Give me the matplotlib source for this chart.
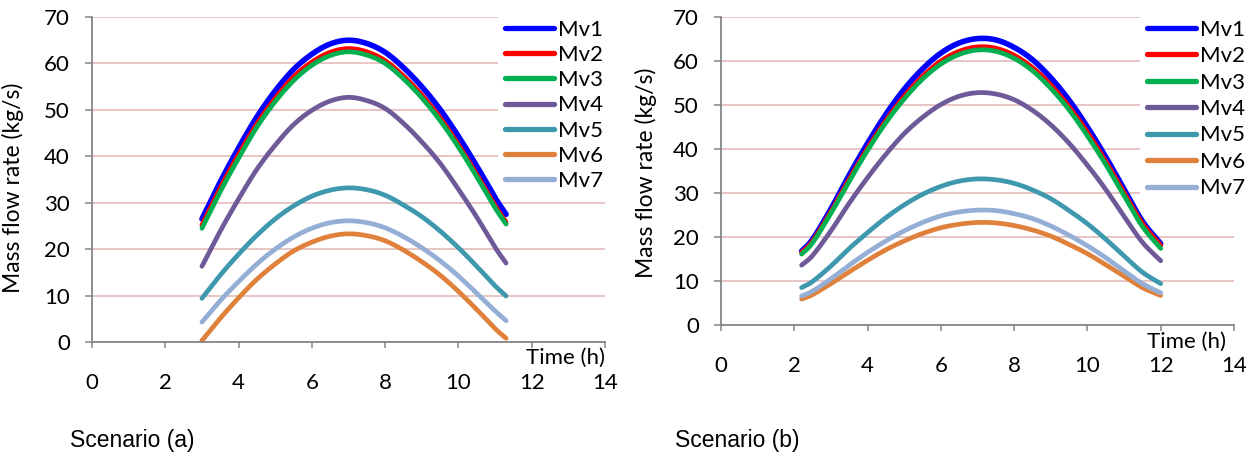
import matplotlib
matplotlib.use("Agg")
import matplotlib.pyplot as plt
import numpy as np

plt.rcParams['font.family'] = ['Lato', 'DejaVu Sans']

# ---- Scenario (a) ----
time_a = [3.0, 3.5, 4.0, 4.5, 5.0, 5.5, 6.0, 6.5, 7.0, 7.5, 8.0, 8.5, 9.0,
          9.5, 10.0, 10.5, 11.0, 11.3]
mv1_a = [26.5, 34.5, 41.8, 48.5, 54.1, 58.7, 62.0, 64.2, 65.0, 64.3, 62.4,
         59.1, 55.0, 50.1, 44.3, 37.9, 31.1, 27.5]
mv2_a = [25.2, 33.2, 40.4, 47.0, 52.5, 57.1, 60.3, 62.4, 63.2, 62.5, 60.6,
         57.3, 53.2, 48.3, 42.5, 36.1, 29.4, 25.8]
mv3_a = [24.5, 32.4, 39.6, 46.3, 51.8, 56.3, 59.6, 61.7, 62.5, 61.8, 60.0,
         56.7, 52.6, 47.7, 42.0, 35.6, 28.9, 25.4]
mv4_a = [16.3, 23.9, 30.8, 37.2, 42.4, 46.8, 49.9, 51.9, 52.7, 52.0, 50.3,
         47.1, 43.1, 38.5, 32.9, 26.9, 20.4, 17.0]
mv5_a = [9.4, 14.4, 18.9, 23.0, 26.5, 29.3, 31.4, 32.7, 33.2, 32.8, 31.6,
         29.5, 27.0, 23.9, 20.3, 16.3, 12.1, 9.9]
mv6_a = [0.3, 5.1, 9.5, 13.5, 16.8, 19.6, 21.5, 22.8, 23.3, 22.9, 21.8,
         19.8, 17.3, 14.4, 10.9, 7.0, 2.9, 0.8]
mv7_a = [4.3, 8.9, 13.0, 16.8, 20.0, 22.6, 24.5, 25.7, 26.1, 25.7, 24.6,
         22.7, 20.3, 17.5, 14.2, 10.5, 6.7, 4.6]

# ---- Scenario (b) ----
time_b = [2.2, 2.5, 3.0, 3.5, 4.0, 4.5, 5.0, 5.5, 6.0, 6.5, 7.0, 7.5, 8.0,
          8.5, 9.0, 9.5, 10.0, 10.5, 11.0, 11.5, 12.0]
mv1_b = [16.8, 19.5, 26.4, 34.1, 41.3, 47.9, 53.6, 58.2, 61.8, 64.1, 65.1,
         64.8, 63.1, 60.3, 56.2, 51.1, 45.0, 38.2, 30.9, 23.6, 18.5]
mv2_b = [16.5, 19.1, 25.8, 33.2, 40.2, 46.5, 52.0, 56.5, 60.0, 62.2, 63.2,
         62.9, 61.3, 58.5, 54.6, 49.6, 43.8, 37.2, 30.1, 23.1, 18.1]
mv3_b = [16.1, 18.7, 25.4, 32.7, 39.7, 46.0, 51.4, 55.9, 59.3, 61.5, 62.5,
         62.2, 60.6, 57.8, 53.8, 48.9, 43.0, 36.5, 29.4, 22.4, 17.4]
mv4_b = [13.6, 15.8, 21.4, 27.7, 33.5, 38.8, 43.5, 47.2, 50.1, 52.0, 52.8,
         52.5, 51.2, 48.8, 45.5, 41.3, 36.3, 30.8, 24.7, 18.8, 14.6]
mv5_b = [8.5, 9.9, 13.4, 17.4, 21.0, 24.4, 27.3, 29.7, 31.5, 32.7, 33.2,
         33.0, 32.2, 30.7, 28.7, 26.0, 23.0, 19.5, 15.7, 12.0, 9.4]
mv6_b = [5.9, 6.9, 9.4, 12.1, 14.7, 17.1, 19.1, 20.8, 22.1, 22.9, 23.3,
         23.2, 22.6, 21.6, 20.2, 18.3, 16.2, 13.7, 11.1, 8.5, 6.7]
mv7_b = [6.6, 7.7, 10.5, 13.6, 16.5, 19.1, 21.4, 23.3, 24.8, 25.7, 26.1,
         26.0, 25.3, 24.2, 22.5, 20.4, 18.0, 15.3, 12.3, 9.4, 7.3]

series_names = ['Mv1', 'Mv2', 'Mv3', 'Mv4', 'Mv5', 'Mv6', 'Mv7']
series_colors = ['#0000FF', '#FF0000', '#00B050', '#6E5A98', '#3E98AE',
                 '#E0813B', '#94AED5']
series_widths = [4.0, 3.4, 3.4, 3.4, 3.4, 3.4, 3.4]

x_ticks = [0, 2, 4, 6, 8, 10, 12, 14]
y_ticks = [0, 10, 20, 30, 40, 50, 60, 70]

W, H = 1258, 462
fig = plt.figure(figsize=(W / 100, H / 100), dpi=100)

AXIS_GREY = '#868686'
GRID_PINK = '#E3B5B5'
FS = 16


def px_box(left, top, right, bottom):
    return [left / W, (H - bottom) / H, (right - left) / W, (bottom - top) / H]


def smooth_path(x, y, steps=10):
    """Catmull-Rom curve through the given points (smoothed line style)."""
    pts = np.column_stack([x, y]).astype(float)
    pts = np.vstack([2 * pts[0] - pts[1], pts, 2 * pts[-1] - pts[-2]])
    out = []
    s = np.linspace(0, 1, steps, endpoint=False)[:, None]
    for i in range(1, len(pts) - 2):
        p0, p1, p2, p3 = pts[i - 1], pts[i], pts[i + 1], pts[i + 2]
        seg = 0.5 * (2 * p1 + (p2 - p0) * s
                     + (2 * p0 - 5 * p1 + 4 * p2 - p3) * s ** 2
                     + (-p0 + 3 * p1 - 3 * p2 + p3) * s ** 3)
        out.append(seg)
    out.append(pts[-2][None, :])
    out = np.vstack(out)
    return out[:, 0], out[:, 1]


def style_axes(ax):
    ax.set_xlim(0, 14)
    ax.set_ylim(0, 70)
    ax.set_xticks(x_ticks)
    ax.set_yticks(y_ticks)
    for side in ('top', 'right'):
        ax.spines[side].set_visible(False)
    for side in ('left', 'bottom'):
        ax.spines[side].set_color(AXIS_GREY)
        ax.spines[side].set_linewidth(1.3)
    ax.yaxis.grid(True, color=GRID_PINK, linewidth=1.1)
    ax.set_axisbelow(True)
    ax.tick_params(axis='y', direction='out', length=5, width=1.1,
                   color=AXIS_GREY, pad=11, labelsize=FS)
    ax.tick_params(axis='x', direction='out', length=4.5, width=1.1,
                   color=AXIS_GREY, pad=18, labelsize=FS)
    ax.set_ylabel('Mass flow rate (kg/s)', fontsize=FS + 0.5)


def draw_panel(ax, t, curves, leg_left_px, leg_top_px, spacing):
    for vals, name, col, lw in zip(curves, series_names, series_colors,
                                   series_widths):
        sx, sy = smooth_path(t, vals)
        ax.plot(sx, sy, color=col, lw=lw, label=name,
                solid_capstyle='round', solid_joinstyle='round')
    style_axes(ax)
    leg = ax.legend(loc='upper left',
                    bbox_to_anchor=(leg_left_px / W, (H - leg_top_px) / H),
                    bbox_transform=fig.transFigure, fontsize=FS,
                    frameon=True, fancybox=False, framealpha=1.0,
                    facecolor='white', edgecolor='none', borderpad=0.3,
                    handlelength=2.2, handletextpad=0.2,
                    labelspacing=spacing, borderaxespad=0)
    leg.set_zorder(5)
    for line in leg.get_lines():
        line.set_linewidth(3.8)
        line.set_solid_capstyle('round')


ax_a = fig.add_axes(px_box(92, 17, 605, 342))
draw_panel(ax_a, time_a,
           [mv1_a, mv2_a, mv3_a, mv4_a, mv5_a, mv6_a, mv7_a],
           498, 13, 0.235)
ax_a.text(1.0, -0.05, 'Time (h)', transform=ax_a.transAxes,
          ha='right', va='center', fontsize=FS)
ax_a.yaxis.set_label_coords(-0.132, 0.475)

ax_b = fig.add_axes(px_box(721, 17, 1234, 325))
draw_panel(ax_b, time_b,
           [mv1_b, mv2_b, mv3_b, mv4_b, mv5_b, mv6_b, mv7_b],
           1140, 13, 0.29)
ax_b.text(0.985, -0.055, 'Time (h)', transform=ax_b.transAxes,
          ha='right', va='center', fontsize=FS)
ax_b.yaxis.set_label_coords(-0.125, 0.494)

fig.text(70 / W, (H - 440) / H, 'Scenario (a)', fontsize=16.5,
         family=['Liberation Sans', 'DejaVu Sans'], ha='left', va='center')
fig.text(675 / W, (H - 440) / H, 'Scenario (b)', fontsize=16.5,
         family=['Liberation Sans', 'DejaVu Sans'], ha='left', va='center')

fig.savefig('out.png', dpi=100)
